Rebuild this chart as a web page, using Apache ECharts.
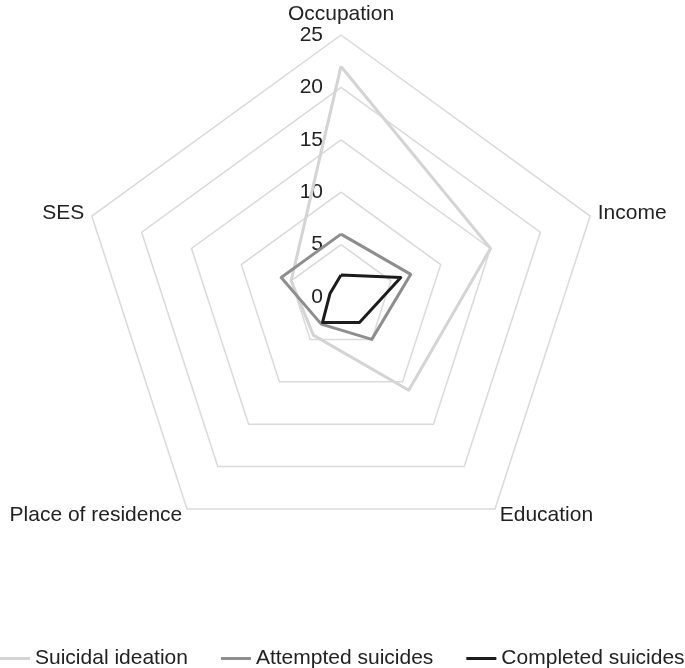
<!DOCTYPE html>
<html>
<head>
<meta charset="utf-8">
<script src="https://cdn.jsdelivr.net/npm/echarts@6/dist/echarts.min.js"></script>
<style>
  html, body { margin: 0; padding: 0; background: #fff; }
  #chart { width: 685px; height: 668px; }
</style>
</head>
<body>
<div id="chart"></div>
<script>
// categories in clockwise order, starting at the top
const indicators = ['Occupation', 'Income', 'Education', 'Place of residence', 'SES']
const axisMax = 25
const ideation = [22, 15, 11, 4.5, 5]
const attempted = [6, 7, 5, 3.2, 6]
const completed = [2.1, 6, 3, 3, 1.1]
const seriesNames = ['Suicidal ideation', 'Attempted suicides', 'Completed suicides']
const seriesColors = ['#d4d4d4', '#8e8e8e', '#1c1c1c']

// echarts radar runs counter-clockwise, so flip the order after the first item
const order = [0, 4, 3, 2, 1]
const reorder = (arr) => order.map((i) => arr[i])

const chart = echarts.init(document.getElementById('chart'))
const font = 'Liberation Sans, Arial, Helvetica, sans-serif'

chart.setOption({
  backgroundColor: '#fff',
  animation: false,
  textStyle: { fontFamily: font },
  legend: {
    data: seriesNames,
    left: 0,
    top: 648,
    width: 800,
    padding: 0,
    itemWidth: 30,
    itemHeight: 3,
    itemGap: 33,
    icon: 'rect',
    textStyle: { fontSize: 21, color: '#222', fontFamily: font },
  },
  radar: {
    center: [341, 297],
    radius: 262,
    startAngle: 90,
    splitNumber: 5,
    shape: 'polygon',
    nameGap: 8,
    axisName: { color: '#222', fontSize: 21, fontFamily: font },
    axisLine: { show: false },
    axisTick: { show: false },
    splitArea: { show: false },
    splitLine: { lineStyle: { color: '#dadada', width: 1.5 } },
    axisLabel: { show: false },
    indicator: reorder(indicators).map((name, i) => ({
      name,
      min: 0,
      max: axisMax,
      axisLabel: i === 0
        ? { show: true, color: '#222', fontSize: 21, fontFamily: font, margin: 18, showMaxLabel: true, showMinLabel: true }
        : { show: false },
    })),
  },
  series: [
    {
      type: 'radar',
      symbol: 'none',
      data: [
        { name: seriesNames[0], value: reorder(ideation), lineStyle: { color: seriesColors[0], width: 3 }, itemStyle: { color: seriesColors[0] } },
        { name: seriesNames[1], value: reorder(attempted), lineStyle: { color: seriesColors[1], width: 3 }, itemStyle: { color: seriesColors[1] } },
        { name: seriesNames[2], value: reorder(completed), lineStyle: { color: seriesColors[2], width: 3 }, itemStyle: { color: seriesColors[2] } },
      ],
    },
  ],
})
</script>
</body>
</html>
